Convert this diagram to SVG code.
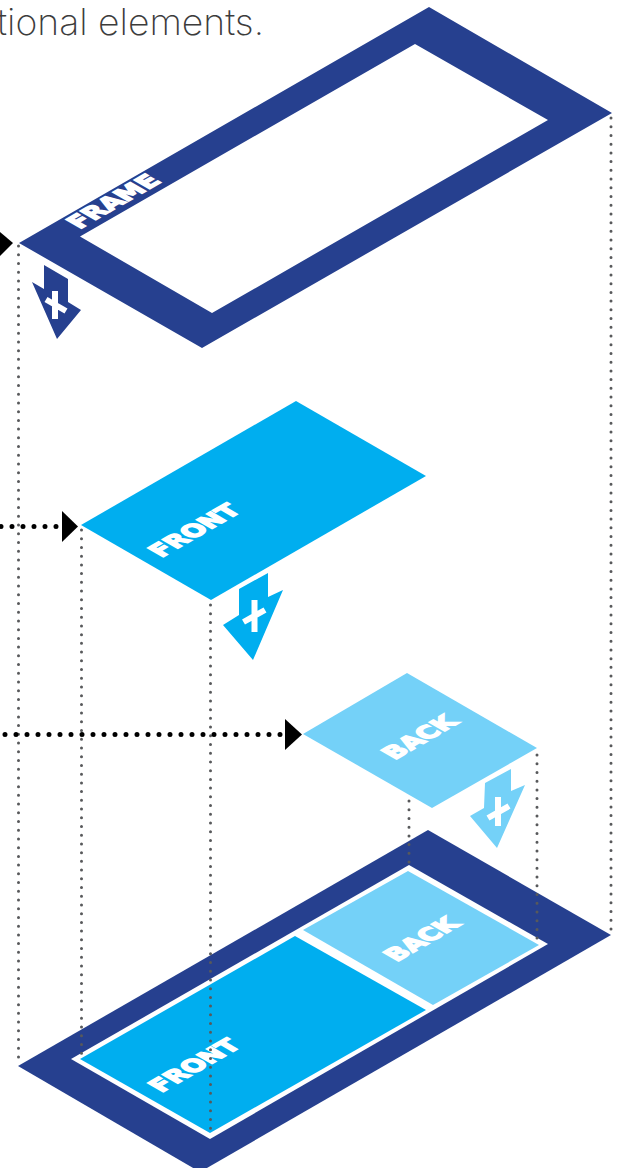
<svg xmlns="http://www.w3.org/2000/svg" width="618" height="1168" viewBox="0 0 618 1168">
<style>
.navy{fill:#26408f}.cyan{fill:#00aeef}.light{fill:#74d1f8}
.lbl{font-family:"DejaVu Sans",sans-serif;font-weight:700;font-size:24.500px;fill:#fff;stroke:#fff;stroke-width:1.800;text-anchor:middle}
.plus{stroke:#fff;stroke-width:6;fill:none}
.gray{stroke:#58595b;stroke-width:3;stroke-linecap:round;stroke-dasharray:0 8.72;fill:none}
.black{stroke:#000;stroke-width:5;stroke-linecap:round;stroke-dasharray:0 11;fill:none}
</style>
<text x="-3" y="35" textLength="267" lengthAdjust="spacingAndGlyphs" font-family="Inter,sans-serif" font-weight="200" font-size="36" fill="#3c3c3c">tional elements.</text>
<g id="frame">
<path class="navy" fill-rule="evenodd" d="M19 243L429 7L612 113L202 348ZM80 236.500L212 313L548 120L415 44Z"/>
<text class="lbl" transform="matrix(.866 -.5 .866 .5 113 201)" x="0" y="9">FRAME</text>
</g>
<g id="frame-arrow">
<path class="navy" d="M44 265L68 279L68 302L81 310L57 339L32 282L44 289Z"/>
<path class="plus" d="M55 291V319M46 299.500L66 311"/>
</g>
<g id="front">
<path class="cyan" d="M81 525L296 401L426 476L211 600Z"/>
<text class="lbl" transform="matrix(.866 -.5 .866 .5 194 530)" x="0" y="9">FRONT</text>
</g>
<g id="front-arrow">
<path class="cyan" d="M268 573L268 597L283 590L253 660L223 625L239 615L239 589Z"/>
<path class="plus" d="M254.500 600V632M243.500 622L265 610"/>
</g>
<g id="back">
<path class="light" d="M303 734L407 673L537 748L432 808Z"/>
<text class="lbl" transform="matrix(.866 -.5 .866 .5 419 737)" x="0" y="9">BACK</text>
</g>
<g id="back-arrow">
<path class="light" d="M511 769L511 791L525 785L497 848L470 816L484 808L485 783Z"/>
<path class="plus" d="M498 797V826M488 818L509 806"/>
</g>
<g id="assembled">
<path class="navy" d="M18 1066L428 830L611 935L200 1172Z"/>
<path fill="#fff" d="M71 1059L409 865L548 944L210 1139Z"/>
<path class="cyan" d="M80 1059L295 936L426 1010L210 1133Z"/>
<path class="light" d="M303 930L408 871L539 945L433 1005Z"/>
<text class="lbl" transform="matrix(.866 -.5 .866 .5 421 939)" x="0" y="9">BACK</text>
<text class="lbl" transform="matrix(.866 -.5 .866 .5 194 1065)" x="0" y="9">FRONT</text>
</g>
<g id="connectors">
<path class="gray" d="M18.500 246V1060M81.500 530V1055M210.500 605V1132M537 755V942M409 801V866M611 118V932"/>
<path class="black" d="M1 526.500H58M5 734.500H282"/>
<path d="M0 232L13 243L0 256Z"/>
<path d="M62 511L78 526.500L62 542Z"/>
<path d="M285 719L302 734.500L285 750Z"/>
</g>
</svg>
